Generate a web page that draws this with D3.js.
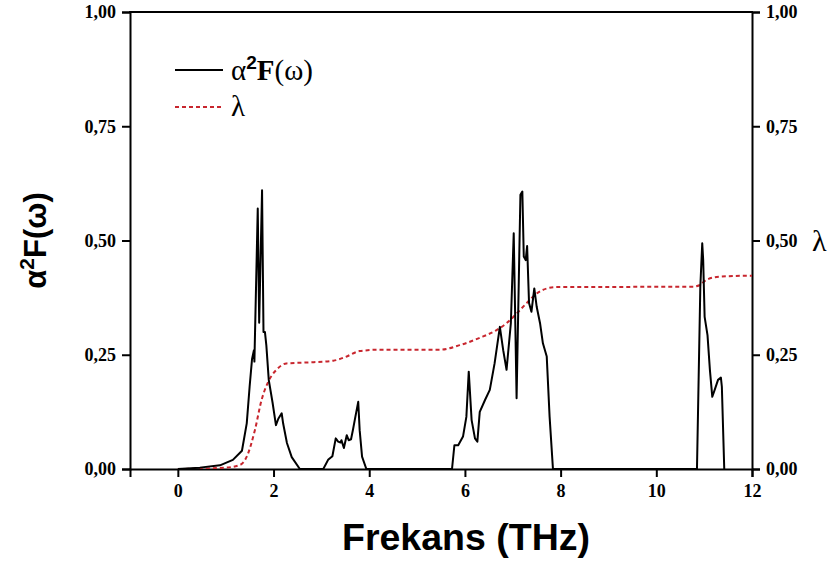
<!DOCTYPE html>
<html>
<head>
<meta charset="utf-8">
<script src="https://cdn.jsdelivr.net/npm/d3@7"></script>
<style>
  body { margin: 0; background: #fff; }
</style>
</head>
<body>
<svg id="chart" width="839" height="563"></svg>
<script>
// alpha^2 F(omega) : frequency (THz) and value
const a2fFreq = [0, 0.46, 0.88, 1.15, 1.34, 1.44, 1.50, 1.55, 1.59, 1.60, 1.67, 1.70, 1.76, 1.79, 1.82, 1.85, 1.90, 1.98, 2.05, 2.10, 2.17, 2.20, 2.28, 2.38, 2.55,
  3.04, 3.14, 3.23, 3.30, 3.35, 3.40, 3.42, 3.47, 3.53, 3.57, 3.62, 3.66, 3.71, 3.77, 3.80, 3.85, 3.94,
  5.73, 5.78, 5.86, 5.96, 6.03, 6.08, 6.14, 6.21, 6.26, 6.31, 6.42, 6.52, 6.62, 6.73, 6.80, 6.87, 6.96, 7.02, 7.08, 7.13, 7.16, 7.20, 7.23, 7.27, 7.30, 7.34, 7.39, 7.45, 7.50, 7.57, 7.63, 7.71, 7.77, 7.84,
  10.85, 10.92, 10.96, 10.98, 11.01, 11.07, 11.12, 11.17, 11.22, 11.29, 11.35, 11.37, 11.42]
const a2fValue = [0, 0.003, 0.008, 0.02, 0.04, 0.10, 0.18, 0.24, 0.26, 0.235, 0.57, 0.32, 0.61, 0.30, 0.30, 0.27, 0.195, 0.145, 0.096, 0.11, 0.122, 0.10, 0.057, 0.026, 0,
  0, 0.02, 0.028, 0.067, 0.06, 0.058, 0.063, 0.046, 0.074, 0.063, 0.065, 0.086, 0.114, 0.147, 0.085, 0.027, 0,
  0, 0.052, 0.052, 0.071, 0.114, 0.213, 0.107, 0.067, 0.06, 0.125, 0.151, 0.173, 0.231, 0.311, 0.26, 0.217, 0.319, 0.516, 0.155, 0.435, 0.60, 0.607, 0.465, 0.457, 0.488, 0.363, 0.344, 0.395, 0.355, 0.319, 0.275, 0.246, 0.114, 0,
  0, 0.399, 0.494, 0.457, 0.333, 0.293, 0.217, 0.158, 0.173, 0.195, 0.20, 0.18, 0]

// lambda (cumulative coupling)
const lambdaFreq = [0, 0.5, 1.0, 1.30, 1.44, 1.61, 1.75, 1.89, 2.06, 2.27, 2.69, 3.25, 3.5, 3.8, 4.2, 5.48, 5.89, 6.31, 6.66, 6.87, 7.08, 7.29, 7.50, 7.71, 7.91, 10.77, 10.90, 11.05, 11.33, 11.95, 12]
const lambdaValue = [0, 0.001, 0.003, 0.009, 0.027, 0.085, 0.151, 0.191, 0.217, 0.231, 0.233, 0.237, 0.245, 0.258, 0.261, 0.261, 0.271, 0.287, 0.304, 0.319, 0.34, 0.363, 0.384, 0.395, 0.398, 0.399, 0.402, 0.414, 0.421, 0.423, 0.423]

const xTicks = [0, 2, 4, 6, 8, 10, 12]
const yTicks = [0, 0.25, 0.5, 0.75, 1]

const a2fData = a2fFreq.map((f, i) => ({ x: f, y: a2fValue[i] }))
const lambdaData = lambdaFreq.map((f, i) => ({ x: f, y: lambdaValue[i] }))

const plotLeft = 130, plotRight = 752, plotTop = 12, plotBottom = 469
const fmt = d => d3.format('.2f')(d).replace('.', ',')

const svg = d3.select('#chart')

const x = d3.scaleLinear().domain([-1, 12]).range([plotLeft, plotRight])
const y = d3.scaleLinear().domain([0, 1]).range([plotBottom, plotTop])

// clip
svg.append('clipPath').attr('id', 'clip')
  .append('rect').attr('x', plotLeft).attr('y', plotTop).attr('width', plotRight - plotLeft).attr('height', plotBottom - plotTop)

// axes
const axisStyle = g => {
  g.attr('font-family', 'Liberation Serif, Times New Roman, serif')
    .attr('font-size', 18)
    .attr('font-weight', 'bold')
  g.select('.domain').attr('stroke', '#000').attr('stroke-width', 2)
  g.selectAll('.tick line').attr('stroke', '#000').attr('stroke-width', 2)
  g.selectAll('.tick text').attr('fill', '#000')
}

svg.append('g')
  .attr('transform', `translate(0,${plotBottom})`)
  .call(d3.axisBottom(x).tickValues(xTicks).tickSizeOuter(0).tickSize(8).tickPadding(7))
  .call(axisStyle)

svg.append('g')
  .attr('transform', `translate(${plotLeft},0)`)
  .call(d3.axisLeft(y).tickValues(yTicks).tickFormat(fmt).tickSizeOuter(0).tickSize(8).tickPadding(6))
  .call(axisStyle)

svg.append('g')
  .attr('transform', `translate(${plotRight},0)`)
  .call(d3.axisRight(y).tickValues(yTicks).tickFormat(fmt).tickSizeOuter(0).tickSize(8).tickPadding(6))
  .call(axisStyle)

// top frame line
svg.append('line')
  .attr('x1', plotLeft - 1).attr('x2', plotRight + 1).attr('y1', plotTop).attr('y2', plotTop)
  .attr('stroke', '#000').attr('stroke-width', 2)

// lines
svg.append('path')
  .datum(lambdaData)
  .attr('clip-path', 'url(#clip)')
  .attr('d', d3.line().x(d => x(d.x)).y(d => y(d.y)).curve(d3.curveMonotoneX))
  .attr('fill', 'none')
  .attr('stroke', '#c8262e')
  .attr('stroke-width', 2)
  .attr('stroke-dasharray', '4,3')

svg.append('path')
  .datum(a2fData)
  .attr('clip-path', 'url(#clip)')
  .attr('d', d3.line().x(d => x(d.x)).y(d => y(d.y)))
  .attr('fill', 'none')
  .attr('stroke', '#000')
  .attr('stroke-width', 2)
  .attr('stroke-linejoin', 'round')

// axis titles
svg.append('text')
  .attr('x', 466)
  .attr('y', 550)
  .attr('text-anchor', 'middle')
  .attr('font-family', 'Liberation Sans, Arial, sans-serif')
  .attr('font-weight', 'bold')
  .attr('font-size', 36)
  .attr('textLength', 248)
  .attr('lengthAdjust', 'spacingAndGlyphs')
  .text('Frekans (THz)')

const yTitle = svg.append('text')
  .attr('transform', `translate(46,${(plotTop + plotBottom) / 2}) rotate(-90)`)
  .attr('text-anchor', 'middle')
  .attr('font-family', 'Liberation Sans, Arial, sans-serif')
  .attr('font-weight', 'bold')
  .attr('font-size', 31)
yTitle.append('tspan').text('α')
yTitle.append('tspan').attr('dy', -12).attr('font-size', 21).text('2')
yTitle.append('tspan').attr('dy', 12).text('F(ω)')

svg.append('text')
  .attr('x', 812)
  .attr('y', 251)
  .attr('font-family', 'Liberation Serif, Times New Roman, serif')
  .attr('font-size', 30)
  .text('λ')

// legend
const legend = svg.append('g')
legend.append('line')
  .attr('x1', 175).attr('x2', 223).attr('y1', 70).attr('y2', 70)
  .attr('stroke', '#000').attr('stroke-width', 2)
const lt = legend.append('text')
  .attr('x', 231).attr('y', 80)
  .attr('font-family', 'Liberation Serif, Times New Roman, serif')
  .attr('font-size', 29)
lt.append('tspan').text('α')
lt.append('tspan').attr('dy', -11).attr('font-size', 19).attr('font-weight', 'bold')
  .attr('font-family', 'Liberation Sans, Arial, sans-serif').text('2')
lt.append('tspan').attr('dy', 11).attr('font-weight', 'bold').text('F')
lt.append('tspan').text('(ω)')

legend.append('line')
  .attr('x1', 175).attr('x2', 223).attr('y1', 107).attr('y2', 107)
  .attr('stroke', '#c8262e').attr('stroke-width', 2).attr('stroke-dasharray', '4,3')
legend.append('text')
  .attr('x', 231).attr('y', 116)
  .attr('font-family', 'Liberation Serif, Times New Roman, serif')
  .attr('font-size', 29)
  .text('λ')
</script>
</body>
</html>
